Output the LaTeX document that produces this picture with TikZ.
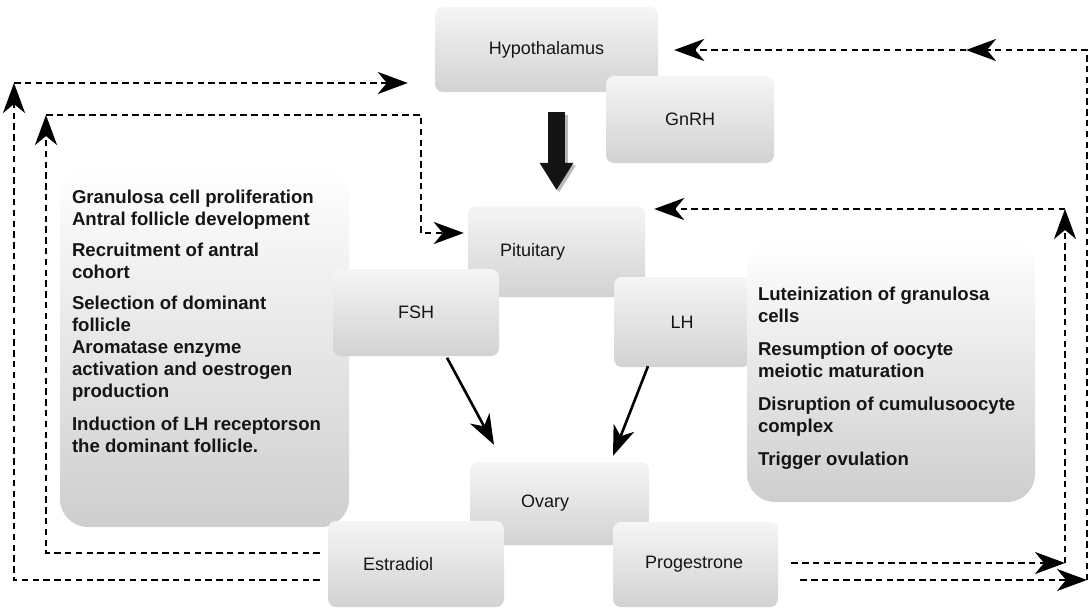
\documentclass[tikz,border=0pt]{standalone}
\usepackage{fontspec}
\setmainfont{Liberation Sans}
\usetikzlibrary{arrows.meta,calc}

\definecolor{boxtop}{HTML}{F5F5F5}
\definecolor{boxbot}{HTML}{D2D2D2}
\definecolor{listbot}{HTML}{CECECE}
\definecolor{ink}{HTML}{151515}

\begin{document}
\begin{tikzpicture}[x=1pt,y=-1pt,
    >={Stealth[length=30pt,width=22pt,inset=9pt]},
    gland/.style={rounded corners=8pt,top color=boxtop,bottom color=boxbot,
                  inner sep=0pt,text=ink,font=\fontsize{18}{22}\selectfont},
    listbox/.style={rounded corners=28pt,top color=white,bottom color=listbot,
                    inner sep=0pt},
    listtext/.style={anchor=north west,inner sep=0pt,align=left,text=ink,
                     font=\fontsize{18.6}{22}\selectfont\bfseries},
    feedback/.style={->,line width=2.8pt,dash pattern=on 6.5pt off 4.3pt},
    stim/.style={->,line width=2.6pt},
    bigarrow/.style={-{Triangle[length=27pt,width=34pt,line width=0pt]},
                     line width=17pt}]
  \useasboundingbox (0,0) rectangle (1090,610);

  \node[gland,minimum width=223pt,minimum height=85pt] (hypo) at (546.5,49.5) {Hypothalamus};
  \node[gland,minimum width=168pt,minimum height=87pt] (gnrh) at (690,119.5) {GnRH};

  \node[listbox,minimum width=289pt,minimum height=362pt] (fshbox) at (204.5,346) {};
  \node[listtext] (fshlist) at ([xshift=12pt,yshift=-25pt]fshbox.north west)
    {Granulosa cell proliferation\\ Antral follicle development\\[9pt]
     Recruitment of antral\\ cohort\\[9pt]
     Selection of dominant\\ follicle\\ Aromatase enzyme\\
     activation and oestrogen\\ production\\[11pt]
     Induction of LH receptorson\\ the dominant follicle.};

  \node[gland,minimum width=177pt,minimum height=91pt,text width=113pt,
        inner xsep=32pt,align=left] (pit) at (556.5,251.5) {Pituitary};
  \node[gland,minimum width=166pt,minimum height=87pt] (fsh) at (416,312.5) {FSH};
  \node[gland,minimum width=136pt,minimum height=90pt] (lh) at (682,322) {LH};

  \node[listbox,minimum width=288pt,minimum height=262pt] (lhbox) at (891,371) {};
  \node[listtext] (lhlist) at ([xshift=11pt,yshift=-47pt]lhbox.north west)
    {Luteinization of granulosa\\ cells\\[11pt]
     Resumption of oocyte\\ meiotic maturation\\[11pt]
     Disruption of cumulusoocyte\\ complex\\[11pt]
     Trigger ovulation};

  \node[gland,minimum width=179pt,minimum height=83pt,text width=77pt,
        inner xsep=51pt,align=left] (ovary) at (559.5,503.5) {Ovary};
  \node[gland,minimum width=176pt,minimum height=86pt,text width=106pt,
        inner xsep=35pt,align=left] (estr) at (416,564) {Estradiol};
  \node[gland,minimum width=165pt,minimum height=85pt,text width=101pt,
        inner xsep=32pt,align=left] (prog) at (695.5,564.5) {Progestrone};

  % GnRH drive
  \draw[bigarrow,draw=gray!55] ($(hypo.south)+(12.5,22.5)$) -- ($(pit.north)+(2.5,-13.5)$);
  \draw[bigarrow,draw=black!92] ($(hypo.south)+(10,20)$) -- ($(pit.north)+(0,-16)$);

  \draw[stim] ([xshift=31pt,yshift=-1.5pt]fsh.south) -- ([xshift=-65.5pt,yshift=17pt]ovary.north);
  \draw[stim] ([xshift=-34pt,yshift=1pt]lh.south) -- ([xshift=53.5pt,yshift=6pt]ovary.north);

  % feedback loops
  \coordinate (lo1) at (14,580);
  \coordinate (lo2) at (14,83);
  \coordinate (li1) at (46,553);
  \coordinate (li2) at (46,115);
  \coordinate (li3) at (421,115);
  \coordinate (ro1) at (1087,580);
  \coordinate (ro2) at (1087,50);
  \coordinate (ro3) at (966,50);
  \coordinate (ri1) at (1065,563);
  \coordinate (ri2) at (1065,209);

  \draw[feedback] ([xshift=-8pt,yshift=-16pt]estr.west) -- (lo1) -- (lo2);
  \draw[feedback] (lo2) -- ([xshift=-27pt,yshift=-33.5pt]hypo.west);
  \draw[feedback] ([xshift=-8pt,yshift=11pt]estr.west) -- (li1) -- (li2);
  \draw[feedback] (li2) -- (li3) |- ([xshift=-4pt,yshift=18.5pt]pit.west);

  \draw[feedback] ([xshift=22pt,yshift=-15.5pt]prog.east) -- (ro1);
  \draw[feedback] (ro1) -- (ro2) -- (ro3);
  \draw[feedback] (ro3) -- ([xshift=16pt,yshift=-0.5pt]hypo.east);
  \draw[feedback] ([xshift=13pt,yshift=1.5pt]prog.east) -- (ri1);
  \draw[feedback] (ri1) -- (ri2);
  \draw[feedback] (ri2) -- ([xshift=9pt,yshift=42.5pt]pit.east);
\end{tikzpicture}
\end{document}
